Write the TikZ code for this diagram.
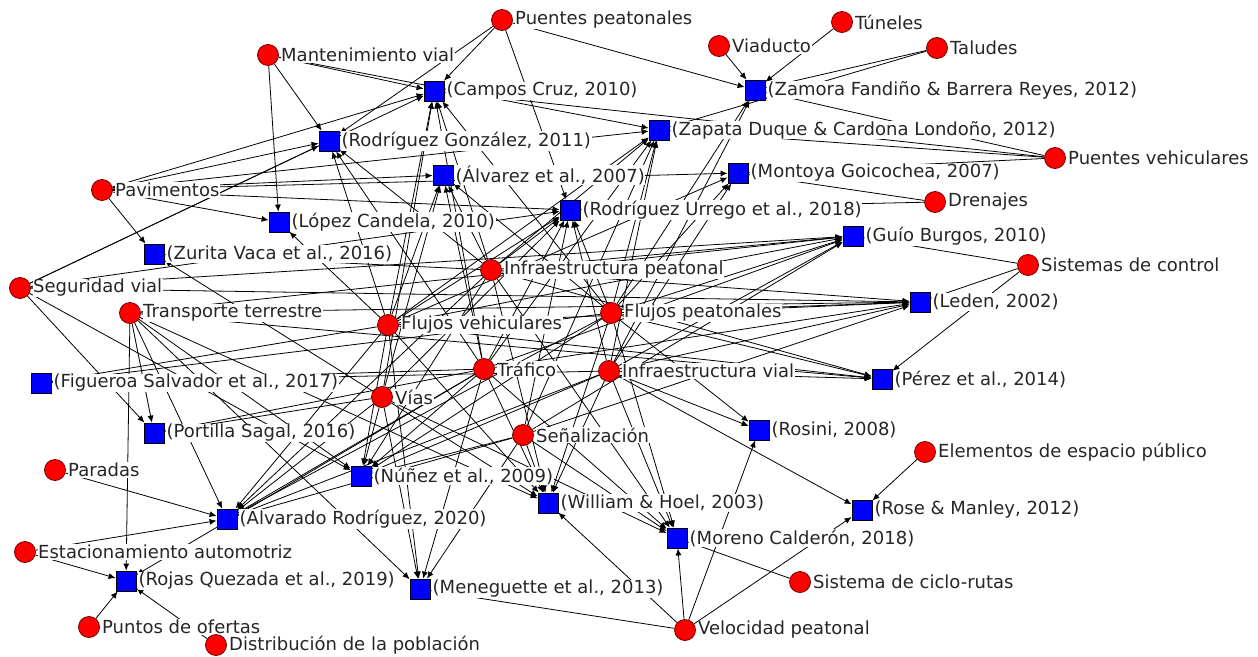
\documentclass[tikz,border=0pt]{standalone}
\usepackage{fontspec}
\setmainfont{DejaVu Sans}
\usetikzlibrary{arrows.meta}
\pgfdeclarelayer{bg}
\pgfdeclarelayer{back}
\pgfsetlayers{back,bg,main}
\begin{document}
\begin{tikzpicture}[x=1pt,y=-1pt,
  concept/.style={circle, fill=red, draw=red!45!black, line width=0.8pt, minimum size=21pt, inner sep=0pt},
  paper/.style={rectangle, fill=blue, draw=black, line width=0.8pt, minimum size=20pt, inner sep=0pt},
  lab/.style={anchor=west, fill=white, inner sep=0.6pt, text=black!85, font=\fontsize{18}{20}\selectfont},
  edge/.style={draw=black, line width=0.8pt, -{Latex[length=7pt,width=6pt]}}]
\begin{pgfonlayer}{back}
\fill[white] (0,0) rectangle (1258,656);
\end{pgfonlayer}
\useasboundingbox (0,0) rectangle (1258,656);
% concepts
\foreach \n/\x/\y/\t in {
  pp/502/20/Puentes peatonales,
  mv/268/55/Mantenimiento vial,
  vd/719/46/Viaducto,
  tu/842/22/Túneles,
  ta/937/48/Taludes,
  pv/1055/158/Puentes vehiculares,
  dr/935/202/Drenajes,
  pa/102/190/Pavimentos,
  sc/1028/265/Sistemas de control,
  sv/20/288/Seguridad vial,
  tt/130/313/Transporte terrestre,
  ip/491/270/Infraestructura peatonal,
  fv/388/325/Flujos vehiculares,
  fp/611/313/Flujos peatonales,
  tr/484/369/Tráfico,
  iv/609/371/Infraestructura vial,
  vi/382/397/Vías,
  se/523/435/Señalización,
  par/55/470/Paradas,
  ee/925/452/Elementos de espacio público,
  ea/25/552/Estacionamiento automotriz,
  cr/800/582/Sistema de ciclo-rutas,
  po/89/627/Puntos de ofertas,
  vp/685/630/Velocidad peatonal,
  dp/216/645/Distribución de la población}
{
  \node[concept] (\n) at (\x,\y) {};
  \node[lab] (\n l) at ([xshift=1.5pt]\n.east) {\t};
}
% papers
\foreach \n/\x/\y/\t in {
  cc/434/91/{(Campos Cruz, 2010)},
  za/755/90/{(Zamora Fandiño \& Barrera Reyes, 2012)},
  rg/329/141/{(Rodríguez González, 2011)},
  zd/659/130/{(Zapata Duque \& Cardona Londoño, 2012)},
  al/443/175/{(Álvarez et al., 2007)},
  mg/738/173/{(Montoya Goicochea, 2007)},
  lc/279/222/{(López Candela, 2010)},
  ru/570/210/{(Rodríguez Urrego et al., 2018)},
  zv/154/254/{(Zurita Vaca et al., 2016)},
  gb/853/236/{(Guío Burgos, 2010)},
  le/920/302/{(Leden, 2002)},
  fs/41/383/{(Figueroa Salvador et al., 2017)},
  pe/882/379/{(Pérez et al., 2014)},
  ps/154/433/{(Portilla Sagal, 2016)},
  ro/759/430/{(Rosini, 2008)},
  nu/361/476/{(Núñez et al., 2009)},
  wh/548/503/{(William \& Hoel, 2003)},
  ar/227/519/{(Alvarado Rodríguez, 2020)},
  rm/862/510/{(Rose \& Manley, 2012)},
  mc/677/538/{(Moreno Calderón, 2018)},
  me/420/589/{(Meneguette et al., 2013)},
  rq/126/581/{(Rojas Quezada et al., 2019)}}
{
  \node[paper] (\n) at (\x,\y) {};
  \node[lab] (\n l) at ([xshift=1.5pt]\n.east) {\t};
}
% edges
\begin{pgfonlayer}{bg}
\foreach \a/\b in {
  pp/cc, pp/rg, pp/za, pp/ru,
  mv/cc, mv/rg, mv/lc, mv/zd,
  vd/za, tu/za, ta/za, ta/zd,
  pv/za, pv/zd, pv/mg, pv/cc,
  dr/mg, dr/ru,
  pa/cc, pa/rg, pa/al, pa/lc, pa/zv, pa/zd, pa/mg, pa/ru,
  sc/gb, sc/le, sc/pe,
  sv/rg, sv/cc, sv/ru, sv/ps, sv/nu, sv/le, sv/gb,
  tt/rq, tt/ps, tt/ar, tt/nu, tt/wh, tt/me, tt/le, tt/pe, tt/gb,
  ip/cc, ip/rg, ip/al, ip/ru, ip/zd, ip/gb, ip/le, ip/pe, ip/zv, ip/nu, ip/wh, ip/mc, ip/ar,
  fv/cc, fv/rg, fv/al, fv/lc, fv/ru, fv/zd, fv/mg, fv/gb, fv/le, fv/pe, fv/nu, fv/ar, fv/me, fv/fs, fv/wh,
  fp/cc, fp/al, fp/ru, fp/zd, fp/mg, fp/gb, fp/le, fp/pe, fp/ro, fp/wh, fp/mc, fp/nu, fp/ar, fp/za, fp/fs,
  tr/cc, tr/rg, tr/al, tr/ru, tr/zd, tr/gb, tr/le, tr/nu, tr/ar, tr/me, tr/wh, tr/mc, tr/ps, tr/rq, tr/fs,
  iv/za, iv/zd, iv/ru, iv/mg, iv/gb, iv/le, iv/pe, iv/rm, iv/mc, iv/wh, iv/nu, iv/ar, iv/ro, iv/fs,
  vi/cc, vi/al, vi/ru, vi/nu, vi/ar, vi/me, vi/wh, vi/mc, vi/ps, vi/zv,
  se/ru, se/zd, se/gb, se/le, se/wh, se/mc, se/me, se/nu, se/ar,
  par/ar, ee/rm, ea/rq, ea/ar, cr/mc, po/rq, dp/rq,
  vp/me, vp/wh, vp/ro, vp/rm, vp/mc}
{ \draw[edge] (\a) -- (\b); }
\end{pgfonlayer}
\end{tikzpicture}
\end{document}
